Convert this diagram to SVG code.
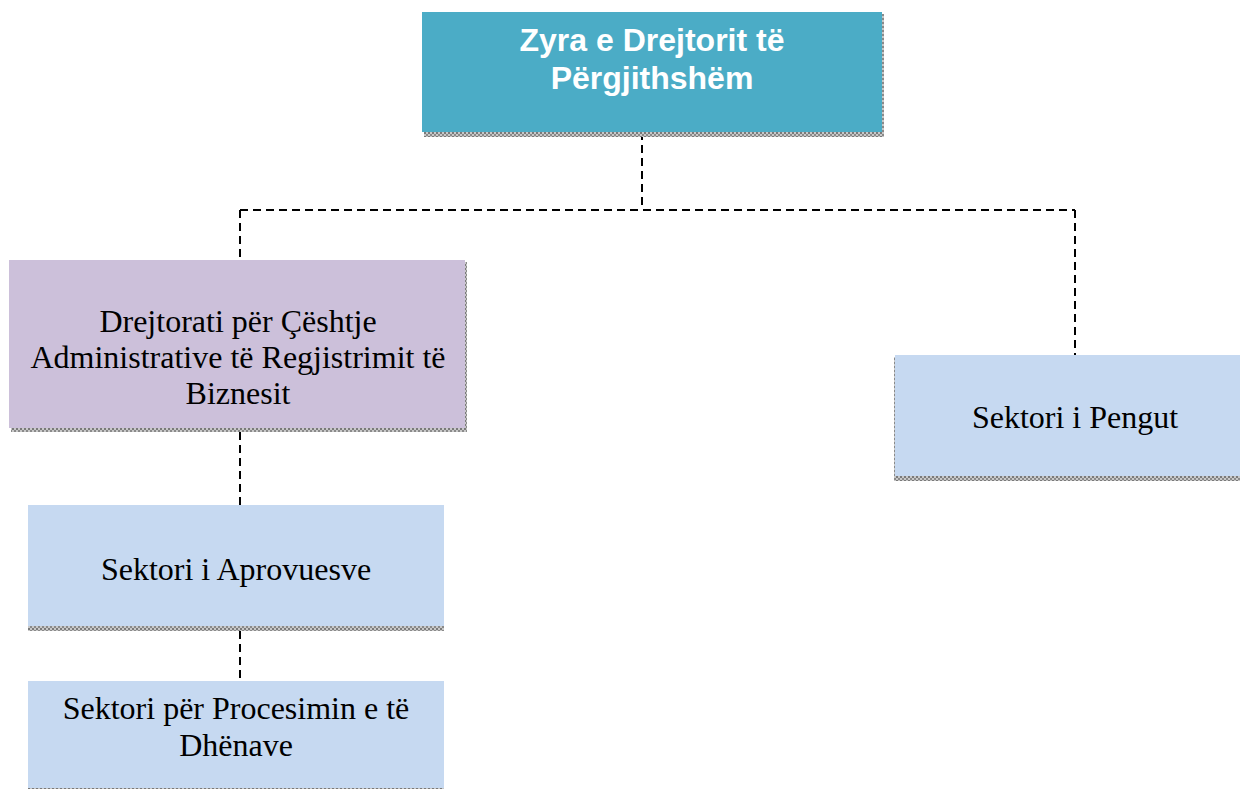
<svg xmlns="http://www.w3.org/2000/svg" width="1240" height="789" viewBox="0 0 1240 789">
<defs>
<pattern id="chk" width="4" height="4" patternUnits="userSpaceOnUse">
<rect width="4" height="4" fill="#c8c8c8"/>
<rect width="2" height="2" fill="#7a7a7a"/>
<rect x="2" y="2" width="2" height="2" fill="#8a8a8a"/>
</pattern>
</defs>
<style>
.sh{fill:url(#chk);}
.con{fill:none;stroke:#000;stroke-width:2;stroke-dasharray:8 5;}
.serif{font-family:"Liberation Serif","Times New Roman",serif;font-size:32px;fill:#000;text-anchor:middle;}
.top{font-family:"Liberation Sans",Arial,sans-serif;font-size:32px;font-weight:bold;fill:#fff;text-anchor:middle;}
</style>
<rect width="1240" height="789" fill="#fff"/>
<g id="connectors">
<path class="con" d="M642 132 V210"/>
<path class="con" d="M240 210 H1075"/>
<path class="con" d="M240 210 V260"/>
<path class="con" d="M1075 210 V355"/>
<path class="con" d="M240 432 V505"/>
<path class="con" d="M240 631 V681"/>
</g>
<g id="n-top">
<rect class="sh" x="424" y="14" width="460" height="123"/>
<rect x="422" y="12" width="460" height="120" fill="#4BACC6"/>
<text class="top" x="652" y="51">Zyra e Drejtorit të</text>
<text class="top" x="652" y="89">Përgjithshëm</text>
</g>
<g id="n-drejtorati">
<rect class="sh" x="11" y="262" width="456" height="170"/>
<rect x="9" y="260" width="456" height="168" fill="#CCC0DA"/>
<text class="serif" x="238" y="332">Drejtorati për Çështje</text>
<text class="serif" x="238" y="368">Administrative të Regjistrimit të</text>
<text class="serif" x="238" y="404">Biznesit</text>
</g>
<g id="n-pengut">
<rect class="sh" x="894" y="357" width="362" height="124"/>
<rect x="895" y="355" width="360" height="121" fill="#C6D9F1"/>
<text class="serif" x="1075" y="428">Sektori i Pengut</text>
</g>
<g id="n-aprovuesve">
<rect class="sh" x="28" y="507" width="416" height="124"/>
<rect x="28" y="505" width="416" height="121" fill="#C6D9F1"/>
<text class="serif" x="236" y="580">Sektori i Aprovuesve</text>
</g>
<g id="n-procesimin">
<rect class="sh" x="28" y="683" width="416" height="107"/>
<rect x="28" y="681" width="416" height="107" fill="#C6D9F1"/>
<text class="serif" x="236" y="719">Sektori për Procesimin e të</text>
<text class="serif" x="236" y="756">Dhënave</text>
</g>
</svg>
